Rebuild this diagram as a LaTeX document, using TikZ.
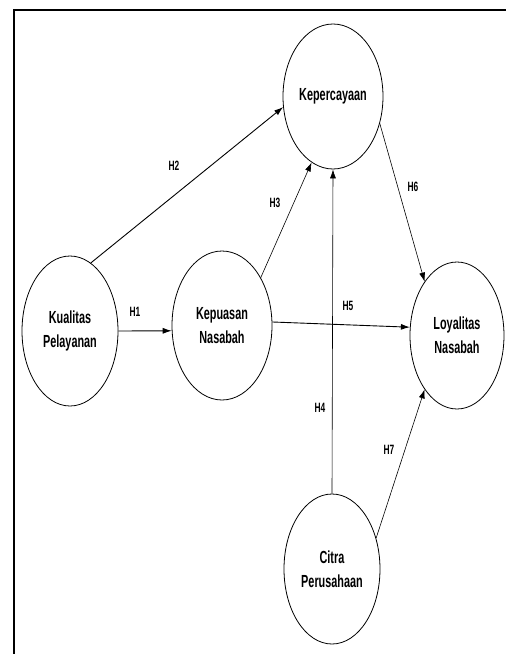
\documentclass[tikz,border=0pt]{standalone}
\usepackage{fontspec}
\newfontfamily\nodefont{Liberation Sans}[FakeStretch=0.62]
\usetikzlibrary{arrows.meta,shapes.geometric}
\begin{document}
\begin{tikzpicture}[x=1pt,y=-1pt,
  var/.style={draw,ellipse,line width=0.8pt,inner sep=0pt,
    font=\nodefont\fontsize{17.5}{24}\selectfont\bfseries,align=center},
  lbl/.style={font=\nodefont\fontsize{13.5}{15}\selectfont\bfseries},
  arr/.style={line width=0.9pt,-{Latex[length=9pt,width=6pt]}},
  arrthin/.style={line width=0.6pt,-{Latex[length=9pt,width=6pt]}}]
\useasboundingbox (0,0) rectangle (506,654);
\draw[line width=2pt] (510,10) -- (14,10) -- (14,660);
\node[var,minimum width=100pt,minimum height=145pt] (kp) at (333,96.5) {Kepercayaan};
\node[var,minimum width=96pt,minimum height=150pt] (kq) at (70,331) {Kualitas\\Pelayanan};
\node[var,minimum width=100pt,minimum height=149pt] (ks) at (222,325.5) {Kepuasan\\Nasabah};
\node[var,minimum width=94pt,minimum height=147pt] (ly) at (457,335.5) {Loyalitas\\Nasabah};
\node[var,minimum width=96pt,minimum height=150pt] (ct) at (332,569) {Citra\\Perusahaan};
\draw[arr] (kq.0) -- (ks.186);
\draw[arr] (kq.73.6) -- (kp.192);
\draw[arrthin] (ks.51) -- (kp.252);
\draw[arrthin] (ct.90) -- (kp.270);
\draw[arr] (ks.4) -- (ly.170);
\draw[arrthin] (kp.330.6) -- (ly.121.5);
\draw[arrthin] (ct.35) -- (ly.239.7);
\node[lbl] (h1) at (135,312) {H1};
\node[lbl] (h2) at (174,166) {H2};
\node[lbl] (h3) at (275,203) {H3};
\node[lbl] (h4) at (320,408) {H4};
\node[lbl] (h5) at (348,306) {H5};
\node[lbl] (h6) at (413,187) {H6};
\node[lbl] (h7) at (389,450) {H7};
\end{tikzpicture}
\end{document}
